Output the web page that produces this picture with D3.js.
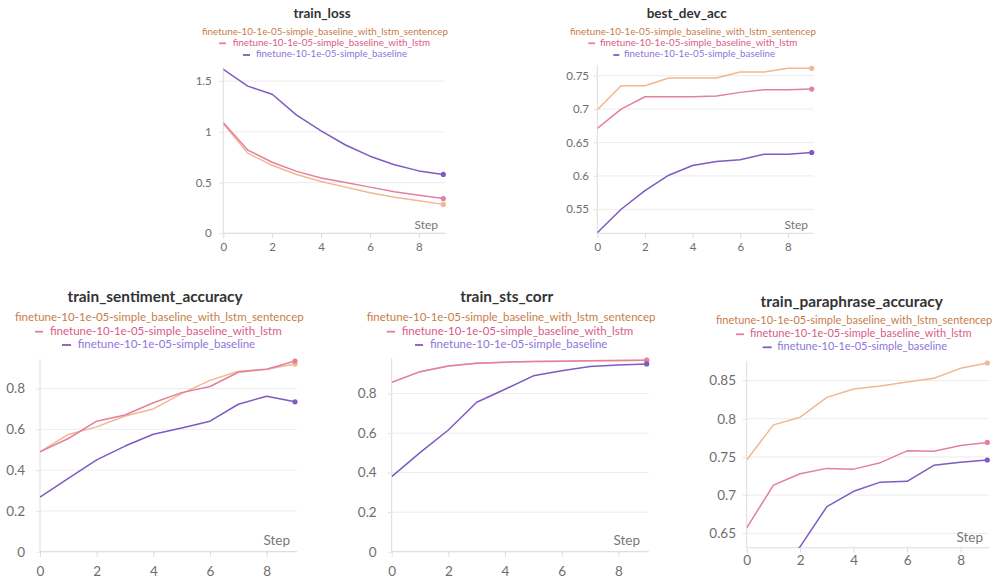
<!DOCTYPE html>
<html><head><meta charset="utf-8">
<script src="https://cdnjs.cloudflare.com/ajax/libs/d3/7.8.5/d3.min.js"></script>
<style>
html,body{margin:0;padding:0;background:#fff;}
svg{display:block;font-family:Lato,"Open Sans",sans-serif;}
</style></head>
<body>
<svg id="chart" width="998" height="578"></svg>
<script>
// ---------- data ----------
const steps = [0,1,2,3,4,5,6,7,8,9];
const seriesNames = [
  "finetune-10-1e-05-simple_baseline_with_lstm_sentencep",
  "finetune-10-1e-05-simple_baseline_with_lstm",
  "finetune-10-1e-05-simple_baseline"
];
const lineColors = ["#f2b792", "#e2819f", "#7d5bc3"];
const textColors = ["#c77d48", "#d95c84", "#8f74d9"];

const trainLossSentencep = [1.08, 0.79, 0.67, 0.58, 0.51, 0.455, 0.40, 0.355, 0.32, 0.285];
const trainLossLstm      = [1.09, 0.82, 0.70, 0.61, 0.545, 0.50, 0.455, 0.41, 0.375, 0.342];
const trainLossBaseline  = [1.615, 1.45, 1.37, 1.165, 1.01, 0.87, 0.76, 0.675, 0.615, 0.58];

const devAccSentencep = [0.699, 0.735, 0.735, 0.7465, 0.7465, 0.7465, 0.7555, 0.7555, 0.761, 0.761];
const devAccLstm      = [0.671, 0.700, 0.7185, 0.7185, 0.7185, 0.7195, 0.725, 0.729, 0.729, 0.730];
const devAccBaseline  = [0.515, 0.550, 0.578, 0.601, 0.6155, 0.6215, 0.624, 0.6325, 0.6325, 0.635];

const sentAccSentencep = [0.49, 0.575, 0.612, 0.665, 0.70, 0.775, 0.84, 0.885, 0.895, 0.92];
const sentAccLstm      = [0.49, 0.555, 0.64, 0.67, 0.73, 0.78, 0.81, 0.88, 0.895, 0.935];
const sentAccBaseline  = [0.268, 0.36, 0.45, 0.518, 0.576, 0.607, 0.64, 0.723, 0.762, 0.735];

const stsSentencep = [0.857, 0.911, 0.940, 0.954, 0.959, 0.962, 0.964, 0.966, 0.968, 0.969];
const stsLstm      = [0.857, 0.911, 0.940, 0.954, 0.959, 0.962, 0.964, 0.966, 0.968, 0.969];
const stsBaseline  = [0.380, 0.501, 0.616, 0.756, 0.822, 0.890, 0.916, 0.937, 0.945, 0.950];

const paraSentencep = [0.746, 0.792, 0.802, 0.828, 0.839, 0.843, 0.848, 0.853, 0.866, 0.873];
const paraLstm      = [0.657, 0.713, 0.728, 0.735, 0.734, 0.7425, 0.758, 0.7575, 0.765, 0.769];
const paraBaseline  = [0.56, 0.60, 0.6325, 0.685, 0.705, 0.717, 0.718, 0.739, 0.743, 0.746];

const xTicks = [0,2,4,6,8];
const lossTicks = [0, 0.5, 1, 1.5];
const devTicks = [0.55, 0.6, 0.65, 0.7, 0.75];
const unitTicks = [0, 0.2, 0.4, 0.6, 0.8];
const paraTicks = [0.65, 0.7, 0.75, 0.8, 0.85];

// ---------- layout ----------
const panels = [
  {title:"train_loss", data:[trainLossSentencep, trainLossLstm, trainLossBaseline], ticks:lossTicks,
   domain:[0,1.62], x0:223.3, x9:443.3, yB:233.3, yT:68.9, titleX:322, titleY:15, titleSize:13.5,
   legY:[32.3,43.3,55], leg1X:202, dash:[[219,226],[243,250]], legTX:[232.7,256], legSize:9.8,
   tickSize:11.5, yLabX:211.7, xLabY:247, stepX:438, stepY:226, stepSize:12},
  {title:"best_dev_acc", data:[devAccSentencep, devAccLstm, devAccBaseline], ticks:devTicks,
   domain:[0.514,0.763], x0:597.3, x9:811.7, yB:233.3, yT:67.0, titleX:686.7, titleY:15, titleSize:13.5,
   legY:[32.3,43.3,55], leg1X:570, dash:[[588.3,595],[613.3,619.3]], legTX:[600,624], legSize:9.8,
   tickSize:11.5, yLabX:589, xLabY:247, stepX:808, stepY:226, stepSize:12},
  {title:"train_sentiment_accuracy", data:[sentAccSentencep, sentAccLstm, sentAccBaseline], ticks:unitTicks,
   domain:[0,0.935], x0:40, x9:295, yB:551.7, yT:361, titleX:155, titleY:298.3, titleSize:15.4,
   legY:[318.3,331.7,345], leg1X:15, dash:[[35,43],[62,71]], legTX:[50,77.7], legSize:11.5,
   tickSize:13.5, yLabX:25, xLabY:571, stepX:290, stepY:541.7, stepSize:13.5},
  {title:"train_sts_corr", data:[stsSentencep, stsLstm, stsBaseline], ticks:unitTicks,
   domain:[0,0.97], x0:391.7, x9:646.7, yB:551.7, yT:360, titleX:506.7, titleY:298, titleSize:15.4,
   legY:[318.3,331.7,345], leg1X:366.7, dash:[[386.7,395],[415,423]], legTX:[401.7,430], legSize:11.5,
   tickSize:13.5, yLabX:376.7, xLabY:571, stepX:640, stepY:541.7, stepSize:13.5},
  {title:"train_paraphrase_accuracy", data:[paraSentencep, paraLstm, paraBaseline], ticks:paraTicks,
   domain:[0.631,0.873], x0:746.7, x9:987.3, yB:547.8, yT:363, titleX:851.7, titleY:303.3, titleSize:15.4,
   legY:[321,334.3,347.3], leg1X:716, dash:[[736,744],[762.7,771.7]], legTX:[750,777.3], legSize:11,
   tickSize:13.5, yLabX:736, xLabY:560, stepX:983, stepY:539, stepSize:13.5}
];

const svg = d3.select("#chart");

panels.forEach((p, pi) => {
  const x = d3.scaleLinear().domain([0, 9]).range([p.x0, p.x9]);
  const y = d3.scaleLinear().domain(p.domain).range([p.yB, p.yT]);
  const g = svg.append("g");

  // grid
  g.selectAll("line.grid").data(p.ticks).join("line")
    .attr("x1", p.x0).attr("x2", p.x9 + 2)
    .attr("y1", d => y(d)).attr("y2", d => y(d))
    .attr("stroke", "#ececec").attr("stroke-width", 1);

  // y axis
  const yAxis = d3.axisLeft(y).tickValues(p.ticks).tickSize(4).tickPadding(p.x0 - p.yLabX - 4)
    .tickFormat(d => String(+d.toFixed(2)));
  const ya = g.append("g").attr("transform", `translate(${p.x0},0)`).call(yAxis);
  ya.select(".domain").attr("stroke", "#dcdcdc").attr("d", `M0,${p.yB}V${p.yT - 2}`);
  ya.selectAll(".tick line").attr("stroke", "#e4e4e4");
  ya.selectAll(".tick text").attr("fill", "#6e6e6e").style("font-size", p.tickSize + "px")
    .style("font-family", "Lato, sans-serif");

  // x axis
  const xAxis = d3.axisBottom(x).tickValues(xTicks).tickSize(5).tickPadding(p.xLabY - p.yB - 5 - p.tickSize * 0.35)
    .tickFormat(d3.format("d"));
  const xa = g.append("g").attr("transform", `translate(0,${p.yB})`).call(xAxis);
  xa.select(".domain").attr("stroke", "#dcdcdc").attr("d", `M${p.x0},0H${p.x9 + 2}`);
  xa.selectAll(".tick line").attr("stroke", "#dcdcdc");
  xa.selectAll(".tick text").attr("fill", "#6e6e6e").style("font-size", p.tickSize + "px")
    .style("font-family", "Lato, sans-serif");

  // Step label
  g.append("text").attr("x", p.stepX).attr("y", p.stepY).attr("text-anchor", "end")
    .attr("dominant-baseline", "middle").attr("fill", "#777").style("font-size", p.stepSize + "px").text("Step");

  // clip
  const cid = "clip" + pi;
  svg.append("clipPath").attr("id", cid).append("rect")
    .attr("x", p.x0).attr("y", p.yT - 4).attr("width", p.x9 - p.x0 + 6).attr("height", p.yB - p.yT + 4);

  const line = d3.line().x((d, i) => x(steps[i])).y(d => y(d));
  const lg = g.append("g").attr("clip-path", `url(#${cid})`);
  p.data.forEach((vals, si) => {
    lg.append("path").datum(vals).attr("d", line).attr("fill", "none")
      .attr("stroke", lineColors[si]).attr("stroke-width", 1.5).attr("stroke-linejoin", "round");
  });
  p.data.forEach((vals, si) => {
    g.append("circle").attr("cx", x(steps[9])).attr("cy", y(vals[9])).attr("r", 2.6)
      .attr("fill", lineColors[si]);
  });

  // title
  g.append("text").attr("x", p.titleX).attr("y", p.titleY).attr("text-anchor", "middle")
    .attr("dominant-baseline", "middle").attr("fill", "#333").style("font-weight", "bold")
    .style("font-size", p.titleSize + "px").text(p.title);

  // legend
  g.append("text").attr("x", p.leg1X).attr("y", p.legY[0]).attr("dominant-baseline", "middle")
    .attr("fill", textColors[0]).style("font-size", p.legSize + "px").text(seriesNames[0]);
  [1, 2].forEach(si => {
    const d = p.dash[si - 1];
    g.append("line").attr("x1", d[0]).attr("x2", d[1]).attr("y1", p.legY[si]).attr("y2", p.legY[si])
      .attr("stroke", lineColors[si]).attr("stroke-width", 1.8);
    g.append("text").attr("x", p.legTX[si - 1]).attr("y", p.legY[si]).attr("dominant-baseline", "middle")
      .attr("fill", textColors[si]).style("font-size", p.legSize + "px").text(seriesNames[si]);
  });
});
</script>
</body></html>
